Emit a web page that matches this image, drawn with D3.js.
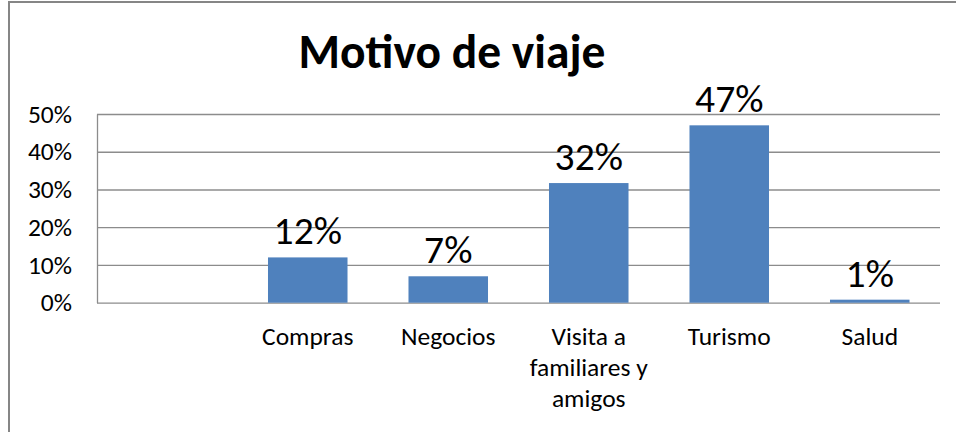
<!DOCTYPE html>
<html>
<head>
<meta charset="utf-8">
<script src="https://cdn.jsdelivr.net/npm/d3@7"></script>
<style>
  body { margin: 0; background: #fff; }
  text { font-family: Carlito, Calibri, Lato, sans-serif; fill: #000; }
</style>
</head>
<body>
<script>
// chart values
let title = "Motivo de viaje";
let categories = ["", "Compras", "Negocios", "Visita a familiares y amigos", "Turismo", "Salud"];
let categoryLines = [[""], ["Compras"], ["Negocios"], ["Visita a", "familiares y", "amigos"], ["Turismo"], ["Salud"]];
let values = [null, 0.12, 0.07, 0.317, 0.47, 0.008];
let yTicks = [0, 0.1, 0.2, 0.3, 0.4, 0.5];

function main(){
    let width = 956;
    let height = 432;
    let left = 97, right = 940, top = 114, bottom = 302.7;

    let svg = d3.select("body").append("svg")
        .attr("width", width)
        .attr("height", height);

    // chart frame
    svg.append("rect")
        .attr("x", 9)
        .attr("y", 2)
        .attr("width", width + 20)
        .attr("height", height + 20)
        .attr("fill", "white")
        .attr("stroke", "#868686")
        .attr("stroke-width", 2);

    let xScale = d3.scaleBand().domain(categories).range([left, right])
        .paddingInner(0.434).paddingOuter(0.217);
    let yScale = d3.scaleLinear().domain([0, 0.5]).range([bottom, top]);
    let pct = d3.format(".0%");

    svg.append("text")
        .attr("x", 452)
        .attr("y", 67.5)
        .attr("text-anchor", "middle")
        .attr("font-weight", "bold")
        .attr("font-size", 47.5)
        .text(title);

    // y axis with gridlines
    let yAxis = svg.append("g")
        .attr("transform", "translate(" + left + ",0)")
        .call(d3.axisLeft(yScale).tickValues(yTicks).tickFormat(pct)
            .tickSize(-(right - left)).tickSizeOuter(0).tickPadding(25));
    yAxis.selectAll("line").attr("stroke", "#8c8c8c").attr("stroke-width", 1.3);
    yAxis.select(".domain").attr("stroke", "#8c8c8c").attr("stroke-width", 1.3);
    yAxis.selectAll("text")
        .attr("font-family", "Lato, sans-serif")
        .attr("font-size", 25.5)
        .attr("fill", "#000");

    // x axis labels
    let xAxis = svg.append("g")
        .attr("transform", "translate(0," + bottom + ")")
        .call(d3.axisBottom(xScale).tickSize(0));
    xAxis.select(".domain").remove();
    xAxis.selectAll("text")
        .attr("font-family", "Lato, sans-serif")
        .attr("font-size", 25.5)
        .attr("fill", "#000")
        .attr("y", 0)
        .attr("dy", null)
        .text(null)
        .each(function(d){
            let i = categories.indexOf(d);
            let t = d3.select(this);
            categoryLines[i].forEach(function(line, j){
                t.append("tspan").attr("x", 0).attr("y", 42.5 + j * 31).text(line);
            });
        });

    let dataSet = categories.map(function(c, i){
        return {cat: c, value: values[i]};
    }).filter(function(d){ return d.value !== null; });

    svg.selectAll("rect.bar")
        .data(dataSet)
        .enter()
        .append("rect")
        .attr("class", "bar")
        .attr("x", function(d){ return xScale(d.cat); })
        .attr("width", xScale.bandwidth())
        .attr("y", function(d){ return yScale(d.value); })
        .attr("height", function(d){ return yScale(0) - yScale(d.value); })
        .attr("fill", "#4f81bd");

    svg.selectAll("text.lbl")
        .data(dataSet)
        .enter()
        .append("text")
        .attr("class", "lbl")
        .attr("x", function(d){ return xScale(d.cat) + xScale.bandwidth() / 2; })
        .attr("y", function(d){ return yScale(d.value) - 13; })
        .attr("text-anchor", "middle")
        .attr("font-size", 39.5)
        .text(function(d){ return pct(Math.round(d.value * 100) / 100); });
}

main();
</script>
</body>
</html>
